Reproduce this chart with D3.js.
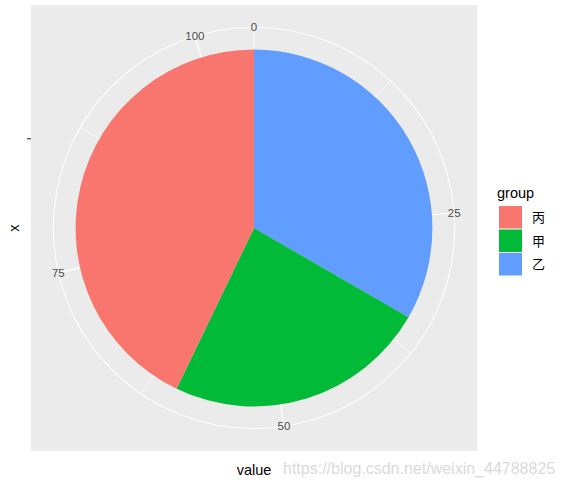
<!DOCTYPE html>
<html>
<head>
<meta charset="utf-8">
<script src="https://cdn.jsdelivr.net/npm/d3@7"></script>
<style>
  body { margin: 0; background: white; }
  text { font-family: "Liberation Sans", Arial, sans-serif; }
</style>
</head>
<body>
<div id="chart"></div>
<script>
// Datos
const groups = ["丙", "甲", "乙"];
const values = [45, 25, 35];
const colors = ["#F8766D", "#00BA38", "#619CFF"];
const thetaBreaks = [0, 25, 50, 75, 100];
const thetaMinor = [12.5, 37.5, 62.5, 87.5];
const thetaMax = 105;

const width = 562, height = 486;
const panel = { x: 31, y: 5, size: 446 };
const cx = panel.x + panel.size / 2, cy = panel.y + panel.size / 2;

const svg = d3.select("#chart").append("svg")
  .attr("width", width).attr("height", height)
  .style("background", "white");

// Escalas (ggplot coord_polar: r 0..0.4, circulo exterior 0.45)
const theta = d3.scaleLinear().domain([0, thetaMax]).range([0, 2 * Math.PI]);
const r = d3.scaleLinear().domain([0.5, 1.5]).range([0, 0.4 * panel.size]);
const rOuter = 0.45 * panel.size;

// Fondo del panel
svg.append("rect")
  .attr("x", panel.x).attr("y", panel.y)
  .attr("width", panel.size).attr("height", panel.size)
  .attr("fill", "#EBEBEB");

const g = svg.append("g").attr("transform", `translate(${cx},${cy})`);

// Rejilla
const pt = (v, rad) => [rad * Math.sin(theta(v)), -rad * Math.cos(theta(v))];
g.selectAll("line.minor").data(thetaMinor).enter().append("line")
  .attr("x1", 0).attr("y1", 0)
  .attr("x2", d => pt(d, rOuter)[0]).attr("y2", d => pt(d, rOuter)[1])
  .attr("stroke", "white").attr("stroke-width", 0.8);
g.selectAll("line.major").data(thetaBreaks).enter().append("line")
  .attr("x1", 0).attr("y1", 0)
  .attr("x2", d => pt(d, rOuter)[0]).attr("y2", d => pt(d, rOuter)[1])
  .attr("stroke", "white").attr("stroke-width", 1.1);
g.selectAll("circle.grid").data([r(1), rOuter]).enter().append("circle")
  .attr("r", d => d).attr("fill", "none")
  .attr("stroke", "white").attr("stroke-width", 1.1);

// Sectores (apilados: el primer nivel queda arriba)
let acc = 0;
const slices = groups.map((k, i) => ({ k, v: values[i], c: colors[i] })).reverse()
  .map(d => { const s = { ...d, start: acc, end: acc + d.v }; acc += d.v; return s; });

const arc = d3.arc().innerRadius(0).outerRadius(r(1.5))
  .startAngle(d => theta(d.start)).endAngle(d => theta(d.end));
g.selectAll("path.slice").data(slices).enter().append("path")
  .attr("d", arc).attr("fill", d => d.c);

// Etiquetas theta
g.selectAll("text.tlab").data(thetaBreaks).enter().append("text")
  .attr("x", d => pt(d, rOuter)[0]).attr("y", d => pt(d, rOuter)[1])
  .attr("dy", "0.35em").attr("text-anchor", "middle")
  .style("font-size", "11.5px").style("fill", "#4D4D4D")
  .text(d => d);

// Eje r (izquierda)
svg.append("line")
  .attr("x1", panel.x - 4).attr("x2", panel.x)
  .attr("y1", cy - r(1)).attr("y2", cy - r(1))
  .attr("stroke", "#333").attr("stroke-width", 1.1);

// Titulos de ejes
svg.append("text").attr("x", cx).attr("y", 475)
  .attr("text-anchor", "middle").style("font-size", "14.5px").text("value");
svg.append("text").attr("transform", `translate(19,${cy}) rotate(-90)`)
  .attr("text-anchor", "middle").style("font-size", "14.5px").text("x");

// Leyenda
const leg = svg.append("g").attr("transform", "translate(497,0)");
leg.append("text").attr("x", 0).attr("y", 198)
  .style("font-size", "14.5px").text("group");
const keys = leg.selectAll("g.key").data(groups).enter().append("g")
  .attr("transform", (d, i) => `translate(2,${206 + i * 23.5})`);
keys.append("rect").attr("width", 23).attr("height", 22.5)
  .attr("fill", (d, i) => colors[i]);
keys.append("text").attr("x", 33).attr("y", 11.5).attr("dy", "0.38em")
  .style("font-family", "'Noto Sans CJK SC', sans-serif")
  .style("font-size", "13px").text(d => d);

// Marca de agua
svg.append("text").attr("x", 283).attr("y", 474)
  .style("font-size", "16px").style("fill", "#DADADA")
  .text("https://blog.csdn.net/weixin_44788825");
</script>
</body>
</html>
